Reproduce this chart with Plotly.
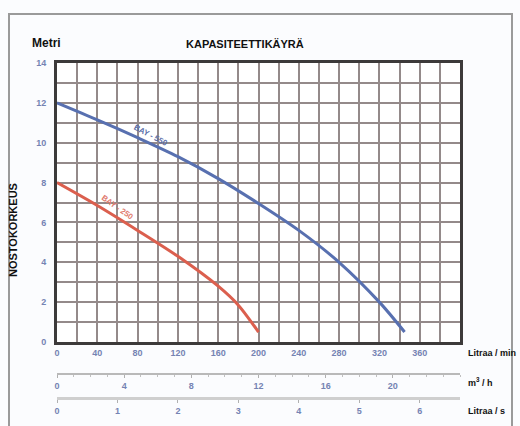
import plotly.graph_objects as go

# Data
flow_blue = [0, 40, 80, 120, 160, 200, 240, 280, 320, 345]
head_blue = [12.0, 11.15, 10.25, 9.3, 8.2, 6.95, 5.6, 4.0, 2.0, 0.5]
flow_red = [0, 40, 80, 120, 160, 180, 200]
head_red = [8.0, 6.85, 5.6, 4.3, 2.8, 1.85, 0.5]
label_blue = "BAY - 550"
label_red = "BAY - 250"

x_ticks_lmin = [0, 40, 80, 120, 160, 200, 240, 280, 320, 360]
x_ticks_m3h = [0, 4, 8, 12, 16, 20]
x_ticks_ls = [0, 1, 2, 3, 4, 5, 6]
y_ticks = [0, 2, 4, 6, 8, 10, 12, 14]

LMIN_MAX = 400
tick_font = dict(family="Liberation Sans", size=9, color="#7583b3", weight="bold")
grid_c = "#948a8a"

fig = go.Figure()
fig.add_trace(go.Scatter(x=flow_blue, y=head_blue, mode="lines",
                         line=dict(color="#5870b0", width=3, shape="spline", smoothing=0.8),
                         showlegend=False, hoverinfo="skip"))
fig.add_trace(go.Scatter(x=flow_red, y=head_red, mode="lines",
                         line=dict(color="#db5f4e", width=3, shape="spline", smoothing=0.8),
                         showlegend=False, hoverinfo="skip"))
# invisible traces to activate the secondary axes
fig.add_trace(go.Scatter(x=[0], y=[0], xaxis="x2", mode="markers",
                         marker=dict(opacity=0), showlegend=False, hoverinfo="skip"))
fig.add_trace(go.Scatter(x=[0], y=[0], xaxis="x3", mode="markers",
                         marker=dict(opacity=0), showlegend=False, hoverinfo="skip"))

fig.update_layout(
    width=520, height=426,
    margin=dict(l=57, r=60, t=63, b=6, autoexpand=False),
    paper_bgcolor="#fbfcfe",
    plot_bgcolor="#ffffff",
    xaxis=dict(range=[0, LMIN_MAX], tickvals=x_ticks_lmin, showgrid=True,
               gridcolor=grid_c, gridwidth=2,
               minor=dict(dtick=20, tick0=0, showgrid=True, gridcolor=grid_c, gridwidth=2),
               showline=True, linecolor="#3c3a3a", linewidth=3, mirror=True,
               ticks="", tickfont=tick_font, zeroline=False, domain=[0, 1],
               automargin=False),
    yaxis=dict(range=[0, 14], tickvals=y_ticks, showgrid=True,
               gridcolor=grid_c, gridwidth=2,
               minor=dict(dtick=1, tick0=0, showgrid=True, gridcolor=grid_c, gridwidth=2),
               showline=True, linecolor="#3c3a3a", linewidth=3, mirror=True,
               ticks="", tickfont=tick_font, zeroline=False, domain=[0.2185, 1],
               ticklabelstandoff=6, automargin=False),
    xaxis2=dict(range=[0, LMIN_MAX * 60 / 1000], tickvals=x_ticks_m3h, overlaying="x",
                anchor="free", position=0.1289, side="bottom",
                showline=True, linecolor="#b9b9b9", linewidth=1.5,
                ticks="outside", ticklen=3, tickcolor="#b0b0b0",
                minor=dict(dtick=1, ticks="outside", ticklen=2, tickcolor="#c0c0c0"),
                showgrid=False, zeroline=False, tickfont=tick_font, automargin=False),
    xaxis3=dict(range=[0, LMIN_MAX / 60], tickvals=x_ticks_ls, overlaying="x",
                anchor="free", position=0.0616, side="bottom",
                showline=True, linecolor="#cfcfcf", linewidth=3,
                ticks="outside", ticklen=3, tickcolor="#b0b0b0",
                showgrid=False, zeroline=False, tickfont=tick_font, automargin=False),
)

PW = 403.0  # plot width in px
PH = 357.0  # paper-fraction height in px


def px(xp):
    return (xp - 57) / PW


def py(yp):
    return (420 - yp) / PH


# outer frame
fig.add_shape(type="rect", xref="paper", yref="paper",
              x0=px(9), x1=px(512), y0=py(440), y1=py(14),
              line=dict(color="#9a9a9a", width=2), fillcolor="rgba(0,0,0,0)", layer="below")

bold = dict(family="Liberation Sans", color="#111111", weight="bold")
fig.add_annotation(text="Metri", xref="paper", yref="paper",
                   x=px(30), y=py(43), xanchor="left", yanchor="middle",
                   showarrow=False, font=dict(size=12, **bold))
fig.add_annotation(text="KAPASITEETTIKÄYRÄ", xref="paper", yref="paper",
                   x=px(245), y=py(44), xanchor="center", yanchor="middle",
                   showarrow=False, font=dict(size=11, **bold))
fig.add_annotation(text="NOSTOKORKEUS", xref="paper", yref="paper",
                   x=px(13), y=py(230), xanchor="center", yanchor="middle",
                   textangle=-90, showarrow=False, font=dict(size=11, **bold))
for txt, ypix in [("Litraa / min", 353), ("m<sup>3</sup> / h", 382), ("Litraa / s", 411)]:
    fig.add_annotation(text=txt, xref="paper", yref="paper",
                       x=px(466), y=py(ypix), xanchor="left",
                       yanchor="middle", showarrow=False, font=dict(size=9, **bold))

fig.add_annotation(text=label_blue, x=93, y=10.35, xref="x", yref="y", showarrow=False,
                   textangle=28, font=dict(family="Liberation Sans", size=8,
                                           color="#5a6da8", weight="bold"))
fig.add_annotation(text=label_red, x=60, y=6.75, xref="x", yref="y", showarrow=False,
                   textangle=35, font=dict(family="Liberation Sans", size=8,
                                           color="#e07a6c", weight="bold"))

fig.write_html(
    "out.html",
    config={"displayModeBar": False},
    post_script="document.body.style.margin='0';document.body.style.overflow='hidden';",
)
